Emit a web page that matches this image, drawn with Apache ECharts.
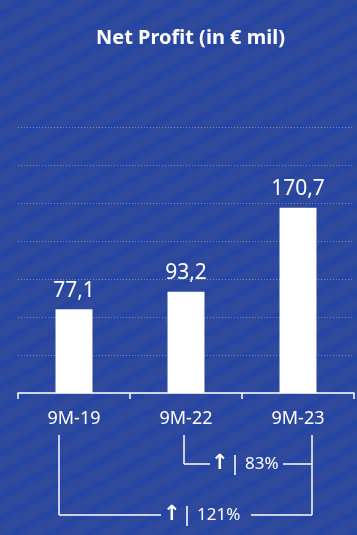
<!DOCTYPE html>
<html><head><meta charset="utf-8">
<script src="https://cdn.jsdelivr.net/npm/echarts@6/dist/echarts.min.js"></script>
<style>
html,body{margin:0;padding:0;width:357px;height:535px;overflow:hidden;
background:repeating-linear-gradient(150deg,#2f4a9c 0px,#2f4a9c 8px,#2445a3 12px,#2445a3 14px,#2f4a9c 19px);}
#c{width:357px;height:535px;}
</style></head><body><div id="c"></div>
<script>
var categories = ['9M-19', '9M-22', '9M-23'];
var profit = [77.1, 93.2, 170.7];
var growthLabels = ['83%', '121%'];

var chart = echarts.init(document.getElementById('c'), null, {renderer: 'canvas'});
var font = '"Noto Sans", sans-serif';
chart.setOption({
  backgroundColor: 'transparent',
  animation: false,
  title: {text: 'Net Profit (in € mil)', left: 96, top: 28, padding: 0,
    textStyle: {color: '#fff', fontSize: 20, fontWeight: 'bold', fontFamily: font}},
  grid: {left: 18, right: 3, top: 127, bottom: 142},
  xAxis: {type: 'category', data: categories,
    axisLine: {lineStyle: {color: '#fff', width: 1.5}},
    axisTick: {show: true, length: 6, lineStyle: {color: '#fff', width: 1.5}},
    axisLabel: {color: '#fff', fontSize: 18, fontFamily: font, margin: 17}},
  yAxis: {type: 'value', min: 0, max: 245, interval: 35,
    axisLabel: {show: false}, axisLine: {show: false}, axisTick: {show: false},
    splitLine: {lineStyle: {color: 'rgba(255,255,255,0.35)', type: [1, 2], width: 1}}},
  series: [{type: 'bar', data: profit, barWidth: '33%',
    itemStyle: {color: '#fff'},
    label: {show: true, position: 'top', distance: 8, color: '#fff', fontSize: 21, fontFamily: font,
      formatter: function (p) { return String(p.value).replace('.', ','); }}}]
});

function drawBrackets() {
  var xs = categories.map(function (c) { return chart.convertToPixel({xAxisIndex: 0}, c); });
  var L = xs[0] - 15, M = xs[1] - 2, R = xs[2] + 14;
  var yTop = 435, y1 = 464, y2 = 515;
  var ls = {stroke: '#fff', lineWidth: 1.5};
  var els = [];
  function line(x1, yA, x2, yB) { els.push({type: 'line', shape: {x1: x1, y1: yA, x2: x2, y2: yB}, style: ls}); }
  function label(x, y, txt) {
    els.push({type: 'text', x: x, y: y, style: {
      text: '{a|↑}{p||}{b| ' + txt + '}', fill: '#fff', align: 'left', verticalAlign: 'middle',
      rich: {a: {fontSize: 21, fontWeight: 'bold', fill: '#fff', fontFamily: '"DejaVu Sans", sans-serif', padding: [0, 1, 0, 0]},
             p: {fontSize: 20, fill: '#fff', fontFamily: font},
             b: {fontSize: 17, fill: '#fff', fontFamily: font}}}});
  }
  // small bracket 9M-22 -> 9M-23
  line(M, yTop, M, y1); line(M, y1, M + 26, y1);
  label(M + 27, y1, growthLabels[0]);
  line(R - 29, y1, R, y1); line(R, yTop, R, y2);
  // big bracket 9M-19 -> 9M-23
  line(L, yTop, L, y2); line(L, y2, 161, y2);
  label(163, y2, growthLabels[1]);
  line(251, y2, R, y2);
  chart.setOption({graphic: {elements: els}});
}
drawBrackets();
</script></body></html>
